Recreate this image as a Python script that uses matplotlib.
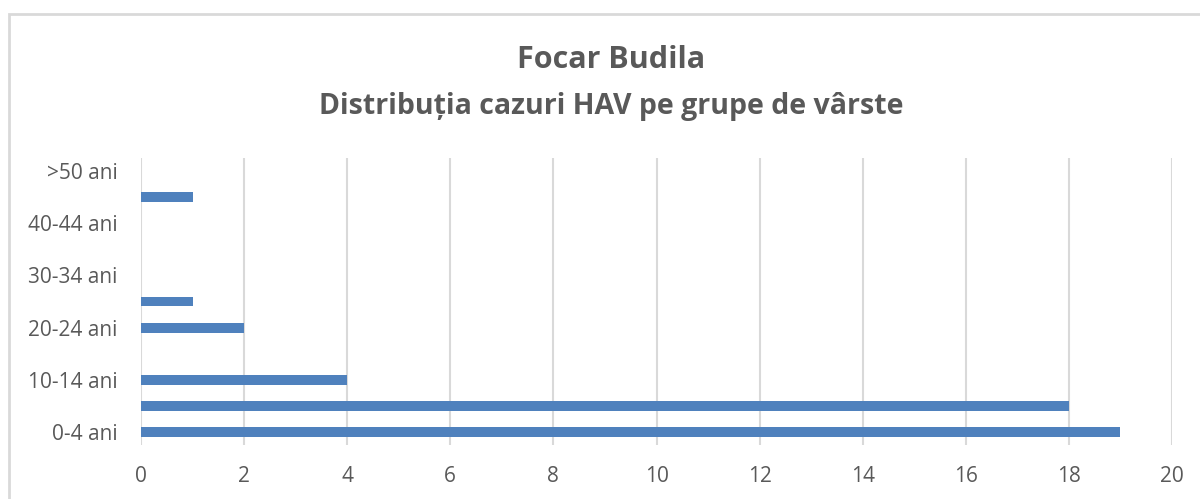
import matplotlib.pyplot as plt
from matplotlib.patches import Rectangle

# age groups (bottom to top) and number of cases
categories = ['0-4 ani', '5-9 ani', '10-14 ani', '15-19 ani', '20-24 ani', '25-29 ani',
              '30-34 ani', '35-39 ani', '40-44 ani', '45-49 ani', '>50 ani']
cases = [19, 18, 4, 0, 2, 1, 0, 0, 0, 1, 0]
x_ticks = [0, 2, 4, 6, 8, 10, 12, 14, 16, 18, 20]

plt.rcParams['font.family'] = ['Open Sans', 'DejaVu Sans']
text_col = '#595959'
grid_col = '#d9d9d9'

fig = plt.figure(figsize=(12, 4.99), dpi=100)
ax = fig.add_axes([0.1175, 0.1082, 0.8592, 0.5752])

pos = list(range(len(categories)))
ax.barh(pos, cases, height=0.38, color='#4f81bd', zorder=3)

ax.set_xlim(0, 20)
ax.set_ylim(-0.5, len(categories) - 0.5)
ax.set_xticks(x_ticks)
ax.set_xticklabels([str(v) for v in x_ticks])
# Excel shows only every other category label
ax.set_yticks(pos[::2])
ax.set_yticklabels(categories[::2])
ax.tick_params(axis='both', length=0, labelsize=15, colors=text_col)
ax.tick_params(axis='x', pad=15)
ax.tick_params(axis='y', pad=17)
ax.xaxis.grid(True, color=grid_col, linewidth=1.5, zorder=0)
for s in ax.spines.values():
    s.set_visible(False)

fig.text(0.509, 0.879, 'Focar Budila', ha='center', va='center',
         fontsize=22, fontweight='bold', color=text_col)
fig.text(0.509, 0.786, 'Distribuția cazuri HAV pe grupe de vârste', ha='center', va='center',
         fontsize=20.5, fontweight='bold', color=text_col)

# chart frame
fig.patches.append(Rectangle((9 / 1200, -0.1), 1.2, 1 - 14 / 499 + 0.1,
                             transform=fig.transFigure, fill=False,
                             edgecolor=grid_col, linewidth=2))

fig.savefig('out.png', dpi=100)
